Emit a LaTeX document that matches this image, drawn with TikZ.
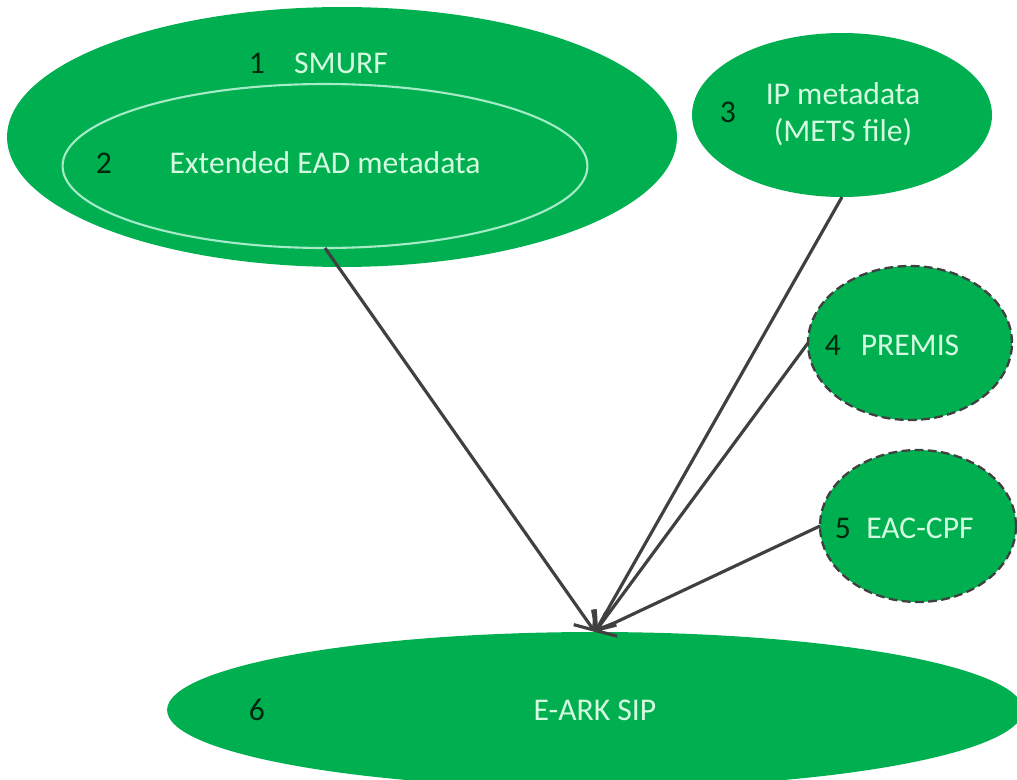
\documentclass[tikz,border=0pt]{standalone}
\usepackage{fontspec}
\setmainfont{Carlito}
\usetikzlibrary{arrows.meta,positioning,shapes.geometric}
\definecolor{sipgreen}{RGB}{0,176,80}
\definecolor{sipmint}{RGB}{212,250,224}
\definecolor{sipdark}{RGB}{0,40,15}
\definecolor{siprim}{RGB}{165,235,200}
\definecolor{sipgrey}{RGB}{64,64,64}

\begin{document}
\begin{tikzpicture}[x=0.02cm,y=-0.02cm,
  every node/.style={font=\fontsize{18}{21}\selectfont},
  blob/.style={ellipse,fill=sipgreen,inner sep=0pt,outer sep=0pt},
  dashblob/.style={blob,draw=sipgrey,line width=1.3pt,dash pattern=on 5pt off 2.5pt},
  lbl/.style={text=sipmint,align=center},
  num/.style={text=sipdark},
  feed/.style={draw=sipgrey,line width=1.8pt,-{Straight Barb[length=9pt,width=15pt]}}]
  \useasboundingbox (0,0) rectangle (1017,780);
  \clip (0,0) rectangle (1017,780);
  \node[blob,minimum width=13.4cm,minimum height=5.2cm] (smurf) at (342,137) {};
  \node[blob,draw=siprim,line width=1.2pt,minimum width=10.5cm,minimum height=3.28cm] (ead) at (325,166) {};
  \node[blob,minimum width=6cm,minimum height=3.28cm] (ip) at (842,115) {};
  \node[dashblob,minimum width=4.08cm,minimum height=3.08cm] (premis) at (910,343) {};
  \node[dashblob,minimum width=3.92cm,minimum height=3.04cm] (eac) at (918,526) {};
  \node[blob,minimum width=17.12cm,minimum height=3.12cm] (sip) at (595,710) {};

  \node[lbl] (smurflbl) at (341,63) {SMURF};
  \node[num] (n1) at (257,63) {1};
  \node[lbl] (eadlbl) at (325,163) {Extended EAD metadata};
  \node[num] (n2) at (104,163) {2};
  \node[lbl] (iplbl) at (843,114) {IP metadata\\(METS file)};
  \node[num] (n3) at (728,112) {3};
  \node[lbl] (premislbl) at (910,345) {PREMIS};
  \node[num] (n4) at (833,345) {4};
  \node[lbl] (eaclbl) at (920,528) {EAC-CPF};
  \node[num] (n5) at (843,528) {5};
  \node[lbl] (siplbl) at (595,710) {E-ARK SIP};
  \node[num] (n6) at (257,710) {6};

  \draw[feed] (ead.south) -- (sip.north);
  \draw[feed] (ip.south) -- (sip.north);
  \draw[feed] (premis.west) -- (sip.north);
  \draw[feed] (eac.west) -- (sip.north);
\end{tikzpicture}
\end{document}
